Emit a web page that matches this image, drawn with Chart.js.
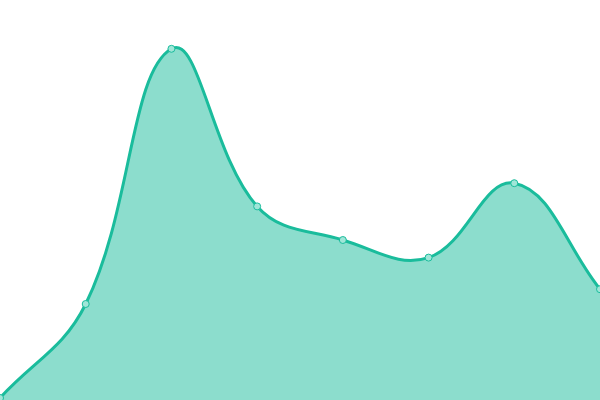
<!DOCTYPE html>
<html>
<head>
<meta charset="utf-8">
<script src="https://cdn.jsdelivr.net/npm/chart.js@4"></script>
<style>
  html, body { margin: 0; padding: 0; background: #ffffff; }
  #wrap { width: 600px; height: 400px; }
</style>
</head>
<body>
<div id="wrap"><canvas id="chart"></canvas></div>
<script>
var labels = ['1', '2', '3', '4', '5', '6', '7', '8'];
var values = [0.5, 24, 87.8, 48.4, 40, 35.6, 54.2, 27.7];

var chart = new Chart(
    document.getElementById('chart'),
    {
        type: 'line',
        data: {
            labels: labels,
            datasets: [{
                label: 'Series',
                data: values,
                borderColor: '#1abc9c',
                backgroundColor: 'rgba(26, 188, 156, 0.5)',
                fill: true,
                borderWidth: 3,
                tension: 0.4,
                pointRadius: 3.5,
                pointBorderWidth: 1,
                pointBorderColor: '#1abc9c',
                pointBackgroundColor: 'rgba(160, 230, 216, 1)'
            }]
        },
        options: {
            responsive: true,
            maintainAspectRatio: false,
            animation: false,
            layout: { padding: 0, autoPadding: false },
            plugins: {
                legend: { display: false },
                tooltip: { enabled: false }
            },
            scales: {
                x: { display: false },
                y: { display: false, min: 0, max: 100 }
            }
        }
    }
);
</script>
</body>
</html>
